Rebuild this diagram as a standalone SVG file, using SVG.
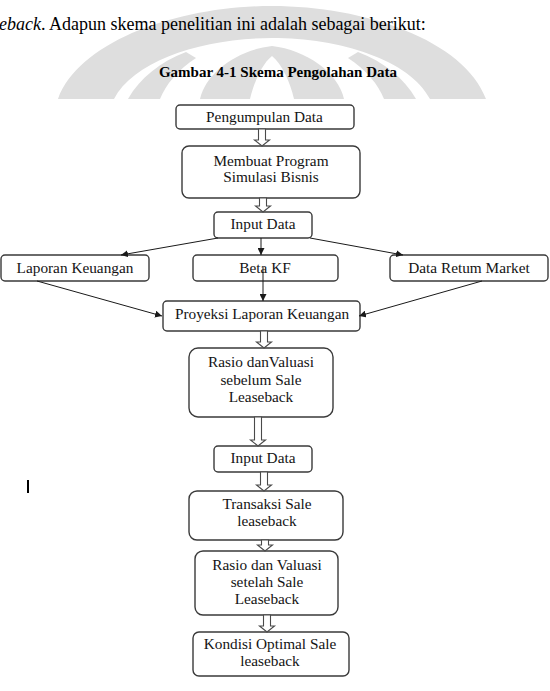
<svg xmlns="http://www.w3.org/2000/svg" width="550" height="691" viewBox="0 0 550 691">
<style>
.box{fill:#fff;stroke:#3a3a3a;stroke-width:1.4}
.t{font-family:"Liberation Serif","DejaVu Serif",serif;font-size:15.3px;fill:#141414;text-anchor:middle}
.ln{stroke:#1a1a1a;stroke-width:1;fill:none;marker-end:url(#ah)}
.blk{fill:#fff;stroke:#4a4a4a;stroke-width:1.1}
.wm{fill:#dedede}
</style>
<defs>
<marker id="ah" viewBox="0 0 10 10" refX="10" refY="5" markerWidth="7" markerHeight="7" orient="auto" markerUnits="userSpaceOnUse">
<path d="M0,0 L10,5 L0,10 Z" fill="#1a1a1a"/>
</marker>
</defs>
<rect width="550" height="691" fill="#fff"/>
<g id="watermark">
<path class="wm" d="M58,99 C80,40 180,6 272,6 C364,6 464,40 486,99 L430,99 C410,60 340,38 272,38 C204,38 134,60 114,99 Z"/>
<path class="wm" d="M128,99 C140,78 160,62 186,52 L196,58 C178,70 166,84 160,99 Z"/>
<path class="wm" d="M416,99 C404,78 384,62 358,52 L348,58 C366,70 378,84 384,99 Z"/>
<path class="wm" d="M200,99 C206,72 238,50 272,46 C306,50 338,72 344,99 Z"/>
<path fill="#fff" d="M250,99 C254,82 262,64 272,56 C282,64 290,82 294,99 Z"/>
</g>
<text x="-1" y="30" font-family="Liberation Serif, serif" font-size="18" fill="#000"><tspan font-style="italic">eback</tspan>. Adapun skema penelitian ini adalah sebagai berikut:</text>
<text x="278" y="77" font-family="Liberation Serif, serif" font-size="15" font-weight="bold" text-anchor="middle" fill="#000">Gambar 4-1 Skema Pengolahan Data</text>
<rect x="27" y="480" width="2" height="13" fill="#000"/>

<g id="n1"><rect class="box" x="176" y="105" width="178" height="24" rx="4"/><text class="t" x="264.5" y="122">Pengumpulan Data</text></g>
<g id="n2"><rect class="box" x="182" y="146" width="178" height="52" rx="7"/><text class="t" x="271" y="166">Membuat Program</text><text class="t" x="271" y="182">Simulasi Bisnis</text></g>
<g id="n3"><rect class="box" x="214" y="212" width="98" height="26" rx="4"/><text class="t" x="263" y="229">Input Data</text></g>
<g id="n4"><rect class="box" x="1" y="255" width="148" height="26" rx="4"/><text class="t" x="75" y="273">Laporan Keuangan</text></g>
<g id="n5"><rect class="box" x="193" y="255" width="145" height="26" rx="4"/><text class="t" x="265" y="273">Beta KF</text></g>
<g id="n6"><rect class="box" x="390" y="255" width="158" height="26" rx="4"/><text class="t" x="469" y="273">Data Retum Market</text></g>
<g id="n7"><rect class="box" x="163" y="301" width="197" height="30" rx="4"/><text class="t" x="262" y="319">Proyeksi Laporan Keuangan</text></g>
<g id="n8"><rect class="box" x="189" y="348" width="144" height="69" rx="9"/><text class="t" x="261" y="367">Rasio danValuasi</text><text class="t" x="261" y="385">sebelum Sale</text><text class="t" x="261" y="402">Leaseback</text></g>
<g id="n9"><rect class="box" x="214" y="446" width="98" height="26" rx="4"/><text class="t" x="263" y="463">Input Data</text></g>
<g id="n10"><rect class="box" x="189" y="491" width="154" height="49" rx="8"/><text class="t" x="267" y="509">Transaksi Sale</text><text class="t" x="267" y="526">leaseback</text></g>
<g id="n11"><rect class="box" x="195" y="551" width="143" height="64" rx="8"/><text class="t" x="267" y="570">Rasio dan Valuasi</text><text class="t" x="267" y="587">setelah Sale</text><text class="t" x="267" y="604">Leaseback</text></g>
<g id="n12"><rect class="box" x="193" y="632" width="156" height="44" rx="6"/><text class="t" x="270" y="649">Kondisi Optimal Sale</text><text class="t" x="270" y="666">leaseback</text></g>

<g id="connectors">
<path class="blk" d="M258.5,129 V140 H254.5 L262,146 L269.5,140 H265.5 V129 Z"/>
<path class="blk" d="M259.5,198 V206 H255.5 L263,212 L270.5,206 H266.5 V198 Z"/>
<path class="blk" d="M260.5,331 V342 H256.5 L264,348 L271.5,342 H267.5 V331 Z"/>
<path class="blk" d="M254.5,417 V440 H250.5 L258,446 L265.5,440 H261.5 V417 Z"/>
<path class="blk" d="M260.5,472 V485 H256.5 L264,491 L271.5,485 H267.5 V472 Z"/>
<path class="blk" d="M261.5,540 V545 H257.5 L265,551 L272.5,545 H268.5 V540 Z"/>
<path class="blk" d="M263.5,615 V626 H259.5 L267,632 L274.5,626 H270.5 V615 Z"/>
<line class="ln" x1="218" y1="238" x2="121" y2="255"/>
<line class="ln" x1="261" y1="238" x2="261" y2="255"/>
<line class="ln" x1="310" y1="238" x2="403" y2="255"/>
<line class="ln" x1="37" y1="281" x2="162" y2="316"/>
<line class="ln" x1="263" y1="267" x2="263" y2="301"/>
<line class="ln" x1="482" y1="281" x2="359" y2="316"/>
</g>
</svg>
